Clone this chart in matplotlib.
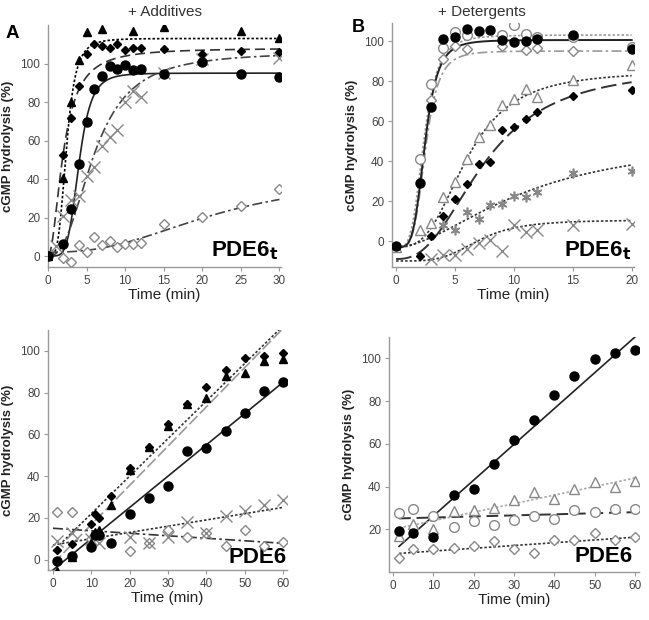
import numpy as np
import matplotlib
matplotlib.use("Agg")
import matplotlib.pyplot as plt

plt.rcParams['font.family'] = ['Liberation Sans', 'DejaVu Sans']

# ---------------- Panel A (+ Additives, PDE6t) ----------------
a_tri_t = [0, 2, 3, 4, 5, 7, 11, 15, 25, 30]
a_tri_y = [0, 40.5, 80, 102, 116.5, 118, 117, 119, 117, 113]
a_dia_t = [0, 2, 3, 4, 5, 6, 7, 8, 9, 10, 11, 12, 15, 20, 25, 30]
a_dia_y = [0, 52.6, 71.7, 88.5, 104.7, 110, 109, 108, 110, 107, 108, 108, 107.6, 104.7, 106.4, 106]
a_cir_t = [0, 2, 3, 4, 5, 6, 7, 8, 9, 10, 11, 12, 15, 20, 25, 30]
a_cir_y = [0, 6, 24.5, 48, 69.6, 86.8, 93.4, 98.6, 96.9, 99, 96.4, 97.2, 94.6, 101, 94.6, 93]
a_x_t = [1, 2, 3, 4, 5, 6, 7, 8, 9, 10, 11, 12, 15, 20, 30]
a_x_y = [5, 20.8, 29, 31, 41.6, 46.5, 57, 62, 65.6, 80, 85.6, 82.6, 95, 102.4, 103]
a_od_t = [2, 3, 4, 5, 6, 7, 8, 9, 10, 11, 12, 15, 20, 25, 30]
a_od_y = [-1.2, -3, 5.7, 2, 9.7, 5.7, 8, 4.5, 6, 6, 6.6, 16.7, 20.5, 26, 35]
# Hill fit parameters: (baseline, amplitude, t50, n)
a_fit_tri = (0, 113, 2.4, 4)
a_fit_dia = (0, 108, 2.0, 2)
a_fit_cir = (0, 95, 4.0, 5)
a_fit_x = (0, 106, 6.0, 2.5)
a_fit_od = (2, 40, 22.0, 2.5)

# ---------------- Panel B (+ Detergents, PDE6t) ----------------
b_cir_t = [0, 2, 3, 4, 5, 6, 7, 8, 9, 10, 11, 12, 15, 20]
b_cir_y = [-2.7, 29, 67, 101, 102, 106, 105, 105.5, 100.5, 99.5, 100, 101, 103, 96]
b_oc_t = [2, 3, 4, 5, 6, 9, 10, 11, 12, 15, 20]
b_oc_y = [41, 78.6, 96.6, 104.7, 103, 103, 108, 103.7, 102, 102, 97]
b_od_t = [3, 4, 5, 6, 9, 11, 12, 15, 20]
b_od_y = [70.7, 91, 97.5, 95.8, 97.5, 95.5, 96.3, 95, 96.6]
b_ot_t = [0, 2, 3, 4, 5, 6, 7, 8, 9, 10, 11, 12, 15, 20]
b_ot_y = [-3, 5.4, 9, 21.8, 29.6, 40.9, 52, 58, 68, 71, 76, 72, 80.7, 88]
b_dia_t = [2, 3, 4, 5, 6, 7, 8, 9, 10, 11, 12, 15, 20]
b_dia_y = [-7.7, 2.3, 12.4, 20.8, 28.3, 38.5, 39.4, 55.6, 56.8, 61, 64.3, 72.4, 75.7]
b_ast_t = [4, 5, 6, 7, 8, 9, 10, 11, 12, 15, 20]
b_ast_y = [7.9, 5.4, 14.6, 11.2, 17.9, 18.4, 22.4, 22, 24.6, 33.8, 35.2]
b_x_t = [3, 4, 5, 6, 7, 8, 9, 10, 11, 12, 15, 20]
b_x_y = [-9.2, -7.2, -7.2, -3.9, -1, 0.7, -5.2, 8.2, 4.5, 5.4, 7.9, 8.7]
b_fit_cir = (-3, 103.5, 2.45, 4.5)
b_fit_oc = (-3, 106, 2.35, 4)
b_fit_od = (-3, 98, 2.5, 4.5)
b_fit_ot = (-3, 88, 6.0, 3)
b_fit_dia = (-9, 96, 7.5, 2.5)
b_fit_ast = (-3, 55, 11.0, 1.8)
b_fit_x = (-10, 20.5, 7.0, 4)

# ---------------- Panel C (+ Additives, PDE6) ----------------
c_t = [1, 5, 10, 11, 12, 15, 20, 25, 30, 35, 40, 45, 50, 55, 60]
c_dia_y = [4.8, 7.4, 17, 21.7, 20, 30.5, 44, 54, 65, 74.6, 82.8, 90.8, 96.8, 97.6, 99]
c_tri_y = [-5.5, 1.3, 8, 13, 14.4, 26, 42.7, 54, 64, 74.6, 77.5, 88, 89.6, 95, 96.3]
c_cir_y = [-0.6, 1.6, 6, 11.7, 11.7, 8, 21.7, 29.7, 35.3, 51.8, 53.5, 61.5, 70.3, 80.7, 85.2]
c_x_t = [1, 5, 10, 12, 20, 25, 30, 35, 40, 45, 50, 55, 60]
c_x_y = [9, 12.5, 10, 8, 10.6, 8, 11, 18, 12.5, 21, 23.4, 26, 28.6]
c_od_t = [1, 5, 10, 12, 20, 25, 30, 35, 40, 45, 50, 55, 60]
c_od_y = [23, 23, 10, 11.7, 4.2, 8, 14.4, 11, 12.5, 6.6, 14.4, 6.6, 8.5]
# linear fits: (intercept, slope)
c_fit_dia = (4, 1.8)
c_fit_tri = (-2, 1.88)
c_fit_cir = (-5, 1.5)
c_fit_x = (7, 0.3)
c_fit_od = (15, -0.12)

# ---------------- Panel D (+ Detergents, PDE6) ----------------
d_t = [1.5, 5, 10, 15, 20, 25, 30, 35, 40, 45, 50, 55, 60]
d_cir_y = [19, 18.4, 16.6, 36, 39, 50.7, 62, 71, 83, 91.7, 99.5, 102.6, 103.7]
d_ot_y = [17, 22.5, 20, 28.6, 29, 29.9, 33.8, 37.4, 34, 39, 42, 39.7, 42.7]
d_oc_y = [27.5, 29.4, 26, 21, 24, 22, 24.4, 26.3, 25, 29, 28, 29.4, 29.5]
d_od_y = [6.4, 10.6, 11, 11.4, 12.2, 14.4, 10.6, 8.7, 15, 15, 18.4, 15, 16.2]
d_fit_cir = (9.5, 1.675)
d_fit_ot = (20, 0.4)
d_fit_oc = (25, 0.05)
d_fit_od = (8.5, 0.13)

xticks_a = [0, 5, 10, 15, 20, 25, 30]
yticks_a = [0, 20, 40, 60, 80, 100]
xticks_b = [0, 5, 10, 15, 20]
xticks_c = [0, 10, 20, 30, 40, 50, 60]
yticks_d = [20, 40, 60, 80, 100]


def hill(t, p):
    b, a, t50, n = p
    t = np.asarray(t, float)
    return b + a * t ** n / (t50 ** n + t ** n)


def lin(t, p):
    return p[0] + p[1] * np.asarray(t, float)


fig = plt.figure(figsize=(6.49, 6.2), dpi=100)
W, H = 649, 620


def mkax(l, t, r, b):
    return fig.add_axes([l / W, 1 - b / H, (r - l) / W, (b - t) / H])


axA = mkax(48, 25, 281, 267)
axB = mkax(392, 23, 634, 267)
axC = mkax(48, 330, 287, 570)
axD = mkax(389, 337, 639, 572)

K = 'black'
G = '#888888'
TC = '#444444'


def style(ax, xt, yt, xl, yl):
    ax.set_xlim(*xl)
    ax.set_ylim(*yl)
    ax.set_xticks(xt)
    ax.set_yticks(yt)
    for s in ['top', 'right']:
        ax.spines[s].set_visible(False)
    for s in ['left', 'bottom']:
        ax.spines[s].set_color('#999999')
        ax.spines[s].set_linewidth(1.0)
    ax.tick_params(colors='#999999', labelcolor=TC, labelsize=8.5, length=3, width=0.8, pad=2.5)
    ax.set_xlabel('Time (min)', fontsize=11, color='#222222', labelpad=1)
    ax.set_ylabel('cGMP hydrolysis (%)', fontsize=9.5, fontweight='bold', color='#222222', labelpad=5)


def pts(ax, t, y, m, filled=True, col=K, ms=6, mew=1.0):
    if filled:
        ax.plot(t, y, linestyle='none', marker=m, color=col, ms=ms, mew=mew, zorder=4)
    else:
        ax.plot(t, y, linestyle='none', marker=m, mfc='white', mec=col, ms=ms, mew=mew, zorder=4)


def fit(ax, t, y, ls, col=K, lw=1.2):
    ax.plot(t, y, linestyle=ls, color=col, lw=lw, zorder=3)


DOT = (0, (1.5, 1.2))
DASH = (0, (6, 3))
DASHDOT = (0, (6, 2, 1.5, 2))

# Panel A
tA = np.linspace(0, 30, 400)
fit(axA, tA, hill(tA, a_fit_tri), DOT)
fit(axA, tA, hill(tA, a_fit_dia), DASH, col='#333333')
fit(axA, tA, hill(tA, a_fit_cir), '-', col='#222222')
fit(axA, tA, hill(tA, a_fit_x), DASHDOT, col='#444444')
fit(axA, tA, hill(tA, a_fit_od), DASHDOT, col='#444444')
pts(axA, a_od_t, a_od_y, 'D', filled=False, col=G, ms=5)
pts(axA, a_x_t, a_x_y, 'x', col=G, ms=8, mew=1.0)
pts(axA, a_cir_t, a_cir_y, 'o', ms=6.5)
pts(axA, a_dia_t, a_dia_y, 'D', ms=4.5)
pts(axA, a_tri_t, a_tri_y, '^', ms=6)
style(axA, xticks_a, yticks_a, (0, 30.2), (-5.7, 120))
axA.text(0.99, 0.02, 'PDE6$_\\mathbf{t}$', transform=axA.transAxes, ha='right', va='bottom',
         fontsize=16, fontweight='bold')

# Panel B
tB = np.linspace(0, 20, 400)
fit(axB, tB, hill(tB, b_fit_oc), DOT, col='#999999')
fit(axB, tB, hill(tB, b_fit_od), DASHDOT, col='#999999')
fit(axB, tB, hill(tB, b_fit_cir), '-', col='#222222', lw=1.4)
fit(axB, tB, hill(tB, b_fit_ot), DOT, col='#333333')
fit(axB, tB, hill(tB, b_fit_dia), (0, (8, 3)), col='#333333', lw=1.4)
fit(axB, tB, hill(tB, b_fit_ast), DOT, col='#333333')
fit(axB, tB, hill(tB, b_fit_x), DOT, col='#333333')
pts(axB, b_x_t, b_x_y, 'x', col=G, ms=8)
pts(axB, b_ast_t, b_ast_y, (6, 2, 0), col=G, ms=7, mew=1.2)
pts(axB, b_dia_t, b_dia_y, 'D', ms=4.5)
pts(axB, b_ot_t, b_ot_y, '^', filled=False, col=G, ms=7)
pts(axB, b_od_t, b_od_y, 'D', filled=False, col=G, ms=5.5)
pts(axB, b_oc_t, b_oc_y, 'o', filled=False, col=G, ms=7)
pts(axB, b_cir_t, b_cir_y, 'o', ms=6.5)
style(axB, xticks_b, yticks_a, (-0.35, 20.2), (-13, 109))
axB.text(0.99, 0.02, 'PDE6$_\\mathbf{t}$', transform=axB.transAxes, ha='right', va='bottom',
         fontsize=16, fontweight='bold')

# Panel C
tC = np.linspace(0, 60, 200)
fit(axC, tC, lin(tC, c_fit_dia), DOT, col='#333333')
fit(axC, tC, lin(tC, c_fit_tri), (0, (7, 2)), col='#999999')
fit(axC, tC, lin(tC, c_fit_cir), '-', col='#222222')
fit(axC, tC, lin(tC, c_fit_x), DOT, col='#333333')
fit(axC, tC, lin(tC, c_fit_od), DASHDOT, col='#333333')
pts(axC, c_od_t, c_od_y, 'D', filled=False, col=G, ms=5.5)
pts(axC, c_x_t, c_x_y, 'x', col=G, ms=8)
pts(axC, c_t, c_cir_y, 'o', ms=6.5)
pts(axC, c_t, c_tri_y, '^', ms=6)
pts(axC, c_t, c_dia_y, 'D', ms=4.5)
style(axC, xticks_c, yticks_a, (-1.3, 61), (-5, 110))
axC.text(1.0, 0.01, 'PDE6', transform=axC.transAxes, ha='right', va='bottom',
         fontsize=16, fontweight='bold')

# Panel D
tD = np.linspace(1.5, 60, 200)
fit(axD, tD, lin(tD, d_fit_cir), '-', col='#222222')
fit(axD, tD, lin(tD, d_fit_ot), DOT, col='#aaaaaa')
fit(axD, tD, lin(tD, d_fit_oc), DASH, col='#333333', lw=1.4)
fit(axD, tD, lin(tD, d_fit_od), DOT, col='#333333')
pts(axD, d_t, d_od_y, 'D', filled=False, col=G, ms=5.5)
pts(axD, d_t, d_oc_y, 'o', filled=False, col=G, ms=7)
pts(axD, d_t, d_ot_y, '^', filled=False, col=G, ms=7)
pts(axD, d_t, d_cir_y, 'o', ms=6.5)
style(axD, xticks_c, yticks_d, (-1, 61), (0, 110))
axD.text(0.976, 0.02, 'PDE6', transform=axD.transAxes, ha='right', va='bottom',
         fontsize=16, fontweight='bold')

fig.text(165 / W, 1 - 12 / H, '+ Additives', ha='center', va='center', fontsize=11, color='#333333')
fig.text(482 / W, 1 - 12 / H, '+ Detergents', ha='center', va='center', fontsize=11, color='#333333')
fig.text(12 / W, 1 - 34 / H, 'A', ha='center', va='center', fontsize=13.5, fontweight='bold')
fig.text(358 / W, 1 - 28 / H, 'B', ha='center', va='center', fontsize=13, fontweight='bold')

fig.savefig('out.png', dpi=100)
